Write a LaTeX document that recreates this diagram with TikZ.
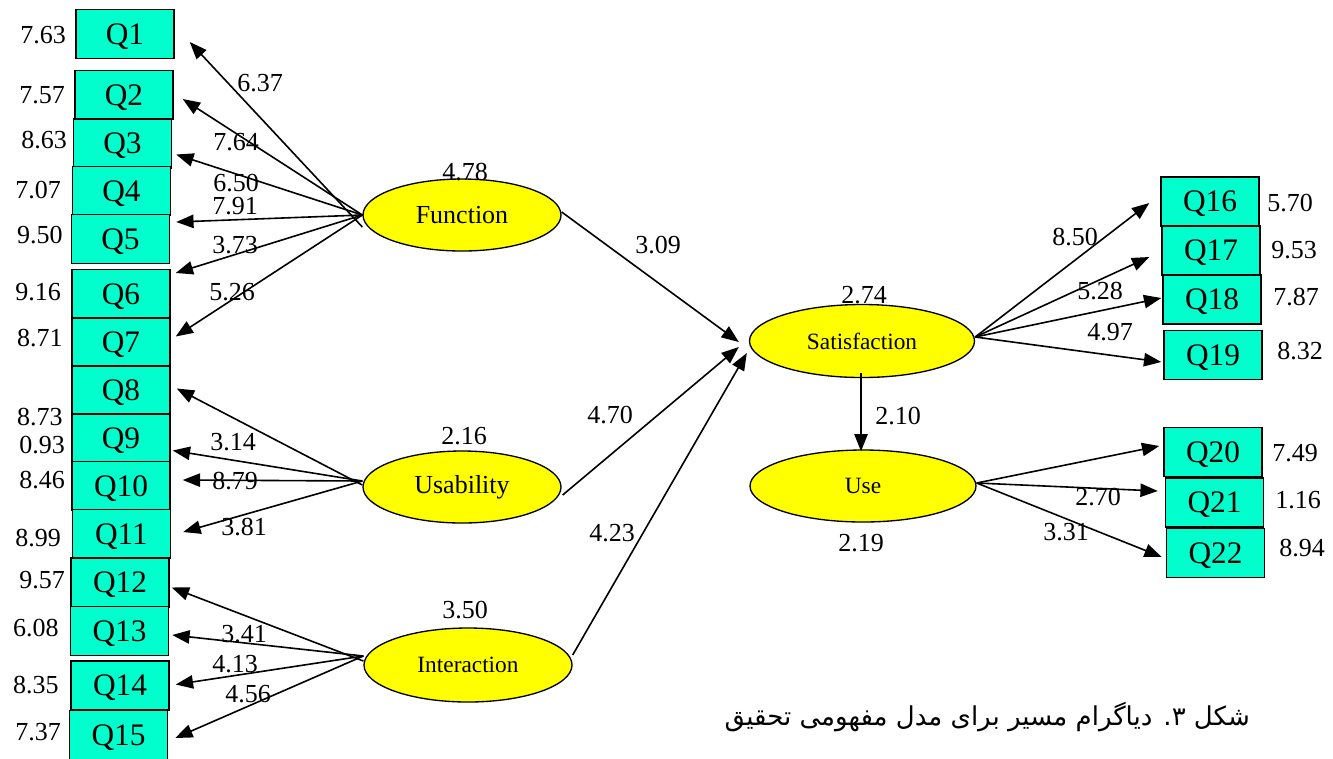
\documentclass[tikz,border=0pt]{standalone}
\usepackage{fontspec}
\setmainfont{Liberation Serif}
\newfontfamily\arabicfont[Script=Arabic]{DejaVu Sans}
\TeXXeTstate=1
\usetikzlibrary{shapes.geometric,arrows.meta}
\definecolor{qbox}{RGB}{0,255,204}
\definecolor{lat}{RGB}{255,255,0}
\tikzset{
  qb/.style={draw=black,line width=1.1pt,fill=qbox,rectangle,minimum width=73.5pt,minimum height=36.5pt,inner sep=0pt,text depth=0pt,font=\fontsize{23.5}{23.5}\selectfont},
  lv/.style={draw=black,line width=1pt,fill=lat,ellipse,inner sep=0pt},
  bigl/.style={font=\fontsize{19.5}{19.5}\selectfont},
  smll/.style={font=\fontsize{17.5}{17.5}\selectfont},
  num/.style={inner sep=0pt,font=\fontsize{19.5}{19.5}\selectfont},
  arr/.style={line width=1.2pt,-{Triangle[length=13pt,width=10pt]}},
}
\begin{document}
\begin{tikzpicture}[x=0.75pt,y=-0.75pt]
\useasboundingbox (0,0) rectangle (1333,758);
% left boxes
\node[qb] (Q1) at (125,34) {Q1};
\node[qb] (Q2) at (124,95) {Q2};
\node[qb] (Q3) at (122.5,143.5) {Q3};
\node[qb] (Q4) at (121.5,191) {Q4};
\node[qb] (Q5) at (120.5,239) {Q5};
\node[qb] (Q6) at (121,294) {Q6};
\node[qb] (Q7) at (121,342.5) {Q7};
\node[qb] (Q8) at (121,390.5) {Q8};
\node[qb] (Q9) at (121,438.5) {Q9};
\node[qb] (Q10) at (121,486) {Q10};
\node[qb] (Q11) at (121.5,534) {Q11};
\node[qb] (Q12) at (120,582.5) {Q12};
\node[qb] (Q13) at (119.5,631) {Q13};
\node[qb] (Q14) at (120,685.5) {Q14};
\node[qb] (Q15) at (118.5,735) {Q15};
% right boxes
\node[qb] (Q16) at (1210,201.5) {Q16};
\node[qb] (Q17) at (1211,250.5) {Q17};
\node[qb] (Q18) at (1212,299.5) {Q18};
\node[qb] (Q19) at (1213,355) {Q19};
\node[qb] (Q20) at (1213,452) {Q20};
\node[qb] (Q21) at (1214.5,502.5) {Q21};
\node[qb] (Q22) at (1215.5,553) {Q22};
% latent variables
\node[lv,bigl,minimum width=148.5pt,minimum height=54pt] (fun) at (462,215) {Function};
\node[lv,bigl,minimum width=148.5pt,minimum height=54pt] (usa) at (462,487) {Usability};
\node[lv,smll,minimum width=156pt,minimum height=55.5pt] (int) at (468,665) {Interaction};
\node[lv,smll,minimum width=168.75pt,minimum height=54.75pt] (sat) at (862,341) {Satisfaction};
\node[lv,smll,minimum width=169.5pt,minimum height=54pt] (use) at (863,486) {Use};
% Function arrows
\draw[arr] ([shift={(0,12)}]fun.west) -- ([shift={(15,8)}]Q1.east);
\draw[arr] (fun.west) -- ([shift={(9,4)}]Q2.east);
\draw[arr] (fun.west) -- ([shift={(4,11)}]Q3.east);
\draw[arr] (fun.west) -- ([shift={(6,-17)}]Q5.east);
\draw[arr] (fun.west) -- ([shift={(5,-21)}]Q6.east);
\draw[arr] (fun.west) -- ([shift={(5,-6)}]Q7.east);
% Usability arrows
\draw[arr] ([shift={(0,-2)}]usa.west) -- ([shift={(6,-2)}]Q8.east);
\draw[arr] ([shift={(0,-6)}]usa.west) -- ([shift={(2,12)}]Q9.east);
\draw[arr] ([shift={(0,-6)}]usa.west) -- ([shift={(12,-6)}]Q10.east);
\draw[arr] ([shift={(0,-6)}]usa.west) -- ([shift={(12,-2)}]Q11.east);
% Interaction arrows
\draw[arr] ([shift={(0,-4)}]int.west) -- ([shift={(2,5)}]Q12.east);
\draw[arr] ([shift={(0,-9)}]int.west) -- ([shift={(3,4)}]Q13.east);
\draw[arr] ([shift={(0,-9)}]int.west) -- ([shift={(6,-1)}]Q14.east);
\draw[arr] ([shift={(0,-9)}]int.west) -- ([shift={(7,3)}]Q15.east);
% structural paths
\draw[arr] ([shift={(0,-3)}]fun.east) -- ([shift={(-10,1)}]sat.west);
\draw[arr] ([shift={(1,8)}]usa.east) -- ([shift={(-10,6)}]sat.west);
\draw[arr] ([shift={(0,-10)}]int.east) -- ([shift={(-2,12)}]sat.west);
\draw[arr] ([shift={(-1,-5)}]sat.south) -- ([shift={(-2,2)}]use.north);
% Satisfaction arrows
\draw[arr] ([shift={(0,-4)}]sat.east) -- ([shift={(-11,1.5)}]Q16.west);
\draw[arr] ([shift={(0,-4)}]sat.east) -- ([shift={(-12,6.5)}]Q17.west);
\draw[arr] ([shift={(0,-4)}]sat.east) -- ([shift={(-1,-1.5)}]Q18.west);
\draw[arr] ([shift={(0,-4)}]sat.east) -- ([shift={(-2,7)}]Q19.west);
% Use arrows
\draw[arr] ([shift={(0,-3)}]use.east) -- ([shift={(-4,-6)}]Q20.west);
\draw[arr] ([shift={(0,-3)}]use.east) -- ([shift={(-7,-11.5)}]Q21.west);
\draw[arr] ([shift={(0,-3)}]use.east) -- ([shift={(-4,4)}]Q22.west);
% path labels
\node[num] (l1) at (260,83) {6.37};
\node[num] (l2) at (236,142) {7.64};
\node[num] (l3) at (236,183) {6.50};
\node[num] (l5) at (235,206) {7.91};
\node[num] (l6) at (235,245) {3.73};
\node[num] (l7) at (232,292) {5.26};
\node[num] (l9) at (233,442) {3.14};
\node[num] (l10) at (235,481) {8.79};
\node[num] (l11) at (244,527) {3.81};
\node[num] (l13) at (244,634) {3.41};
\node[num] (l14) at (235,664) {4.13};
\node[num] (l15) at (248,694) {4.56};
\node[num] (rf) at (465,172) {4.78};
\node[num] (pf) at (658,245) {3.09};
\node[num] (ru) at (464,436) {2.16};
\node[num] (pu) at (610,415) {4.70};
\node[num] (ri) at (465,610) {3.50};
\node[num] (pi) at (612,533) {4.23};
\node[num] (rs) at (864,295) {2.74};
\node[num] (psu) at (898,416) {2.10};
\node[num] (ruse) at (861,543) {2.19};
\node[num] (l16) at (1075,237) {8.50};
\node[num] (l18) at (1100,291) {5.28};
\node[num] (l19) at (1110,332) {4.97};
\node[num] (l21) at (1098,497) {2.70};
\node[num] (l22) at (1066,532) {3.31};
% error values left
\node[num] (e1) at (43,35) {7.63};
\node[num] (e2) at (42,95) {7.57};
\node[num] (e3) at (44,140) {8.63};
\node[num] (e4) at (38,190) {7.07};
\node[num] (e5) at (40,235) {9.50};
\node[num] (e6) at (38,292) {9.16};
\node[num] (e7) at (40,338) {8.71};
\node[num] (e8) at (40,417) {8.73};
\node[num] (e9) at (42,445) {0.93};
\node[num] (e10) at (42,480) {8.46};
\node[num] (e11) at (38,538) {8.99};
\node[num] (e12) at (42,580) {9.57};
\node[num] (e13) at (36,628) {6.08};
\node[num] (e14) at (36,685) {8.35};
\node[num] (e15) at (38,732) {7.37};
% error values right
\node[num] (e16) at (1290,203) {5.70};
\node[num] (e17) at (1294,250) {9.53};
\node[num] (e18) at (1296,297) {7.87};
\node[num] (e19) at (1300,351) {8.32};
\node[num] (e20) at (1295,453) {7.49};
\node[num] (e21) at (1298,500) {1.16};
\node[num] (e22) at (1302,548) {8.94};
% caption
\node[anchor=east,inner sep=0pt,font=\fontsize{19.5}{19.5}\selectfont] (cap) at (1250,717) {\arabicfont\beginR شکل ۳. دیاگرام مسیر برای مدل مفهومی تحقیق\endR};
\end{tikzpicture}
\end{document}
